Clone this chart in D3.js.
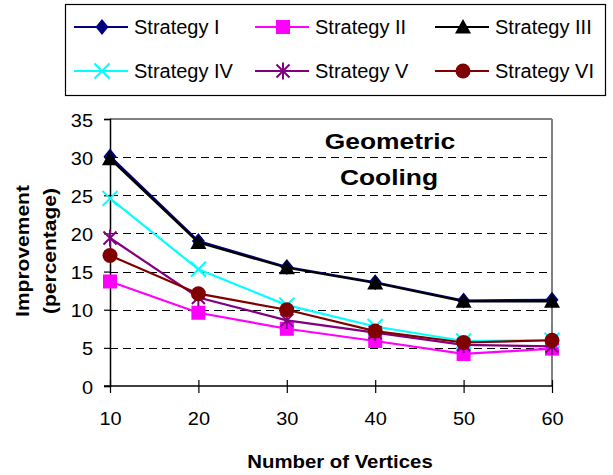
<!DOCTYPE html>
<html>
<head>
<meta charset="utf-8">
<script src="https://cdn.jsdelivr.net/npm/d3@7"></script>
<style>
  html, body { margin: 0; padding: 0; background: #fff; }
  svg { display: block; font-family: "Liberation Sans", Arial, sans-serif; }
</style>
</head>
<body>
<svg id="chart" width="613" height="475"></svg>
<script>
// Number of vertices on the x axis
const vertices = [10, 20, 30, 40, 50, 60];
const yTicks = [0, 5, 10, 15, 20, 25, 30, 35];

// Improvement (%) per strategy
const strategy1 = [30.1, 19.0, 15.6, 13.6, 11.2, 11.3];
const strategy2 = [13.7, 9.6, 7.5, 5.9, 4.2, 4.9];
const strategy3 = [29.8, 18.8, 15.5, 13.5, 11.1, 11.1];
const strategy4 = [24.6, 15.3, 10.6, 7.8, 5.9, 6.0];
const strategy5 = [19.4, 11.6, 8.6, 7.0, 5.4, 5.2];
const strategy6 = [17.1, 12.1, 10.0, 7.2, 5.7, 6.0];

const seriesNames = ["Strategy I", "Strategy II", "Strategy III", "Strategy IV", "Strategy V", "Strategy VI"];

const series = [
  { name: seriesNames[0], values: strategy1, color: "#000080", marker: "diamond" },
  { name: seriesNames[1], values: strategy2, color: "#FF00FF", marker: "square" },
  { name: seriesNames[2], values: strategy3, color: "#000000", marker: "triangle" },
  { name: seriesNames[3], values: strategy4, color: "#00FFFF", marker: "x" },
  { name: seriesNames[4], values: strategy5, color: "#800080", marker: "star" },
  { name: seriesNames[5], values: strategy6, color: "#800000", marker: "circle" }
];

const svg = d3.select("#chart");
const W = 613, H = 475;
const margin = { left: 110, right: 61, top: 119, bottom: 89 };

const x = d3.scaleLinear().domain([10, 60]).range([margin.left, W - margin.right]);
const y = d3.scaleLinear().domain([0, 35]).range([H - margin.bottom, margin.top]);

// Text helper: wide-set glyphs (horizontal stretch along the text direction)
function label(parent, tx, ty, rot, sx, size, weight, anchor, str) {
  return parent.append("text")
    .attr("transform", `translate(${tx},${ty}) rotate(${rot}) scale(${sx},1)`)
    .attr("text-anchor", anchor)
    .attr("font-size", size)
    .attr("font-weight", weight)
    .attr("fill", "#000")
    .text(str);
}

// Horizontal gridlines
const grid = svg.append("g");
yTicks.filter(t => t > 0 && t < 35).forEach(t => {
  grid.append("line")
    .attr("x1", x(10)).attr("x2", x(60))
    .attr("y1", Math.round(y(t)) + 0.5).attr("y2", Math.round(y(t)) + 0.5)
    .attr("stroke", "#000").attr("stroke-width", 1)
    .attr("stroke-dasharray", "8,5");
});
// Top and right border of the plot area
grid.append("line")
  .attr("x1", x(10)).attr("x2", x(60))
  .attr("y1", y(35)).attr("y2", y(35))
  .attr("stroke", "#808080").attr("stroke-width", 2);
grid.append("line")
  .attr("x1", x(60)).attr("x2", x(60))
  .attr("y1", y(35)).attr("y2", y(0))
  .attr("stroke", "#808080").attr("stroke-width", 2);

// Axes
const yAxis = d3.axisLeft(y).tickValues(yTicks).tickSize(6).tickFormat("");
const gy = svg.append("g").attr("transform", `translate(${x(10)},0)`).call(yAxis);
gy.select(".domain").attr("stroke", "#000").attr("stroke-width", 1.5);
gy.selectAll(".tick line").attr("stroke", "#000").attr("stroke-width", 1.2);
gy.selectAll(".tick").each(function (d) {
  label(d3.select(this), -17, 7, 0, 1.05, 19, "normal", "end", d3.format("d")(d));
});

const xAxis = d3.axisBottom(x).tickValues(vertices).tickSize(7).tickFormat("");
const gx = svg.append("g").attr("transform", `translate(0,${y(0)})`).call(xAxis);
gx.select(".domain").attr("stroke", "#000").attr("stroke-width", 1.5)
  .attr("d", `M${x(10) - 6},0H${x(60)}`);
gx.selectAll(".tick line").attr("stroke", "#000").attr("stroke-width", 1.2).attr("y1", -6);
gx.selectAll(".tick").each(function (d) {
  label(d3.select(this), 0, 39, 0, 1.05, 19, "normal", "middle", d3.format("d")(d));
});

// Marker shapes
function drawMarker(g, type, color, cx, cy) {
  if (type === "diamond") {
    g.append("path").attr("d", `M${cx},${cy - 8}L${cx + 6.5},${cy}L${cx},${cy + 8}L${cx - 6.5},${cy}Z`).attr("fill", color);
  } else if (type === "square") {
    g.append("rect").attr("x", cx - 7).attr("y", cy - 7).attr("width", 14).attr("height", 14).attr("fill", color);
  } else if (type === "triangle") {
    g.append("path").attr("d", `M${cx},${cy - 8}L${cx + 8},${cy + 6.5}L${cx - 8},${cy + 6.5}Z`).attr("fill", color);
  } else if (type === "circle") {
    g.append("circle").attr("cx", cx).attr("cy", cy).attr("r", 7.5).attr("fill", color);
  } else if (type === "x") {
    g.append("path").attr("d", `M${cx - 7.5},${cy - 7.5}L${cx + 7.5},${cy + 7.5}M${cx - 7.5},${cy + 7.5}L${cx + 7.5},${cy - 7.5}`)
      .attr("stroke", color).attr("stroke-width", 2).attr("fill", "none");
  } else if (type === "star") {
    g.append("path").attr("d", `M${cx - 6.5},${cy - 6.5}L${cx + 6.5},${cy + 6.5}M${cx - 6.5},${cy + 6.5}L${cx + 6.5},${cy - 6.5}M${cx},${cy - 8.5}L${cx},${cy + 8.5}`)
      .attr("stroke", color).attr("stroke-width", 2).attr("fill", "none");
  }
}

// Series lines and markers
const line = d3.line().x((d, i) => x(vertices[i])).y(d => y(d));
series.forEach(s => {
  const g = svg.append("g");
  g.append("path").datum(s.values).attr("d", line)
    .attr("fill", "none").attr("stroke", s.color).attr("stroke-width", 2.2);
  s.values.forEach((v, i) => drawMarker(g, s.marker, s.color, x(vertices[i]), y(v)));
});

// Chart title inside plot
label(svg, 390, 149, 0, 1.2, 22, "bold", "middle", "Geometric");
label(svg, 389, 185, 0, 1.2, 22, "bold", "middle", "Cooling");

// Axis titles
label(svg, 29, 251, -90, 1.2, 17.5, "bold", "middle", "Improvement");
label(svg, 56, 251, -90, 1.2, 17.5, "bold", "middle", "(percentage)");
label(svg, 340, 468, 0, 1.1, 18.5, "bold", "middle", "Number of Vertices");

// Legend
const legend = svg.append("g");
legend.append("rect").attr("x", 65.5).attr("y", 4.5).attr("width", 540).attr("height", 91)
  .attr("fill", "#fff").attr("stroke", "#000").attr("stroke-width", 1.2);
const colX = [74, 255, 435];
const rowY = [27, 71];
series.forEach((s, i) => {
  const lx = colX[i % 3], ly = rowY[Math.floor(i / 3)];
  const g = legend.append("g");
  g.append("line").attr("x1", lx).attr("x2", lx + 54).attr("y1", ly).attr("y2", ly)
    .attr("stroke", s.color).attr("stroke-width", 2);
  drawMarker(g, s.marker, s.color, lx + 28, ly);
  label(g, lx + 60, ly + 7, 0, 1, 20, "normal", "start", s.name);
});
</script>
</body>
</html>
